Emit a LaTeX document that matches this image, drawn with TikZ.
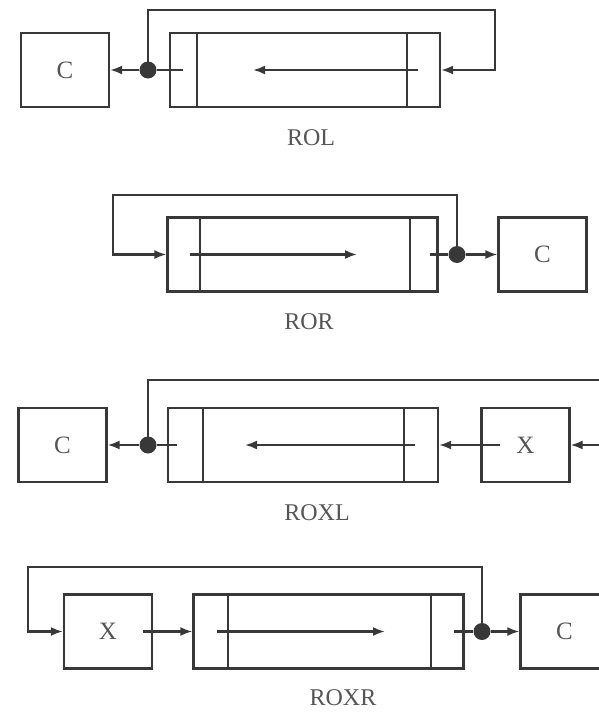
\documentclass[tikz,border=0pt]{standalone}
\usepackage{fontspec}
\setmainfont{Liberation Serif}
\usetikzlibrary{arrows.meta}
\definecolor{ink}{HTML}{383838}
\definecolor{txt}{HTML}{555555}
\tikzset{
  wire/.style={draw=ink, line width=2.2pt},
  flow/.style={wire, -{Latex[length=12pt,width=9pt]}},
  box/.style={draw=ink, line width=2.2pt, rectangle, inner sep=0pt,
    minimum width=88pt, minimum height=74pt, font=\fontsize{25}{27}\selectfont, text=txt},
  reg/.style={draw=ink, line width=2.2pt, rectangle, inner sep=0pt,
    minimum width=270pt, minimum height=74pt},
  joint/.style={circle, fill=ink, inner sep=0pt, minimum size=17pt},
  caption/.style={font=\fontsize{24}{26}\selectfont, text=txt}
}
\begin{document}
\begin{tikzpicture}[x=1pt, y=-1pt]
\useasboundingbox (0,0) rectangle (599,712);
\clip (0,0) rectangle (599,712);

% ---------------- ROL ----------------
\node[box] (c1) at (65,70) {C};
\node[reg] (r1) at (305,70) {};
\draw[wire] (197,33) -- (197,107);
\draw[wire] (407,33) -- (407,107);
\node[joint] (d1) at (148,70) {};
\coordinate (i1) at (183,70);
\coordinate (t1) at (495,10);
\coordinate (a1s) at (418,70);
\coordinate (a1e) at (253,70);
\draw[wire] (d1) -- (i1);
\draw[flow] (d1) -- (c1.east);
\draw[flow] (d1.center) |- (t1) |- (r1.east);
\draw[flow] (a1s) -- (a1e);
\node[caption] (l1) at (311,138) {ROL};

% ---------------- ROR ----------------
\node[reg] (r2) at (302.5,254.5) {};
\draw[wire] (200,217) -- (200,292);
\draw[wire] (410,217) -- (410,292);
\node[box] (c2) at (542.5,254.5) {C};
\node[joint] (d2) at (457,254.5) {};
\coordinate (i2) at (430,254.5);
\coordinate (t2) at (113,195);
\coordinate (a2s) at (190,254.5);
\coordinate (a2e) at (357,254.5);
\draw[wire] (i2) -- (d2);
\draw[flow] (d2) -- (c2.west);
\draw[flow] (d2.center) |- (t2) |- (r2.west);
\draw[flow] (a2s) -- (a2e);
\node[caption] (l2) at (309,322) {ROR};

% ---------------- ROXL ----------------
\node[box] (c3) at (62.5,445) {C};
\node[reg] (r3) at (303,445) {};
\draw[wire] (203,408) -- (203,482);
\draw[wire] (404,408) -- (404,482);
\node[box] (x3) at (525.5,445) {X};
\node[joint] (d3) at (148,445) {};
\coordinate (i3) at (177,445);
\coordinate (o3) at (500,445);
\coordinate (e3) at (615,445);
\coordinate (t3) at (615,380);
\coordinate (a3s) at (415,445);
\coordinate (a3e) at (245,445);
\draw[wire] (d3) -- (i3);
\draw[flow] (d3) -- (c3.east);
\draw[wire] (d3.center) |- (t3);
\draw[flow] (o3) -- (r3.east);
\draw[flow] (e3) -- (x3.east);
\draw[flow] (a3s) -- (a3e);
\node[caption] (l3) at (317,513) {ROXL};

% ---------------- ROXR ----------------
\node[box] (x4) at (108,631.5) {X};
\node[reg] (r4) at (328.5,631.5) {};
\draw[wire] (228,595) -- (228,668);
\draw[wire] (431,595) -- (431,668);
\node[box] (c4) at (564.5,631.5) {C};
\node[joint] (d4) at (482,631.5) {};
\coordinate (i4) at (454,631.5);
\coordinate (o4) at (143,631.5);
\coordinate (t4) at (28,567);
\coordinate (a4s) at (217,631.5);
\coordinate (a4e) at (385,631.5);
\draw[wire] (i4) -- (d4);
\draw[flow] (d4) -- (c4.west);
\draw[flow] (d4.center) |- (t4) |- (x4.west);
\draw[flow] (o4) -- (r4.west);
\draw[flow] (a4s) -- (a4e);
\node[caption] (l4) at (343,698) {ROXR};
\end{tikzpicture}
\end{document}
